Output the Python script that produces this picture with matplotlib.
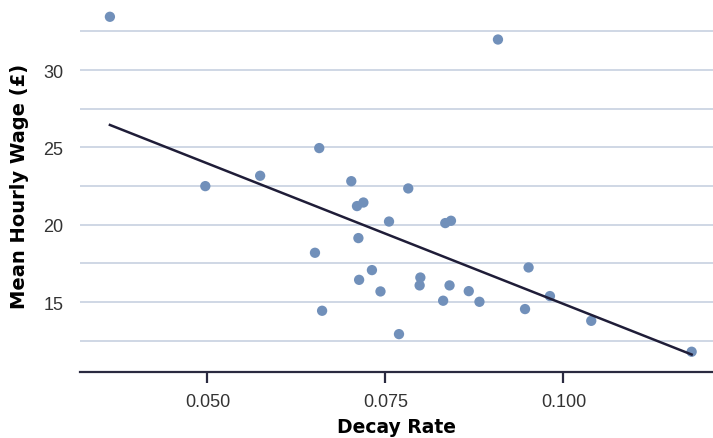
import numpy as np
import matplotlib
matplotlib.use("Agg")
import matplotlib.pyplot as plt
from matplotlib.ticker import MultipleLocator

decay_rate = [0.0363, 0.0908, 0.0497, 0.0574, 0.0657, 0.0702, 0.0782, 0.0710,
              0.0719, 0.0755, 0.0834, 0.0842, 0.0712, 0.0651, 0.0661, 0.0731,
              0.0713, 0.0743, 0.0769, 0.0799, 0.0798, 0.0831, 0.0840, 0.0867,
              0.0882, 0.0951, 0.0946, 0.0981, 0.1039, 0.1180]
mean_wage = [33.45, 31.98, 22.50, 23.17, 24.96, 22.82, 22.35, 21.21,
             21.44, 20.21, 20.11, 20.26, 19.14, 18.19, 14.44, 17.07,
             16.44, 15.69, 12.93, 16.59, 16.08, 15.09, 16.08, 15.71,
             15.02, 17.24, 14.55, 15.39, 13.79, 11.79]
x_ticks = [0.050, 0.075, 0.100]
y_ticks = [15, 20, 25, 30]

x = np.array(decay_rate)
y = np.array(mean_wage)
slope, intercept = np.polyfit(x, y, 1)
xs = np.array([x.min(), x.max()])

fig = plt.figure(figsize=(7.13, 4.39), dpi=100)
ax = fig.add_axes([80/713, (439-372.7)/439, 633/713, 372.7/439])

ax.set_xlim(0.0321, 0.121)
ax.set_ylim(10.5, 34.6)

ax.yaxis.set_major_locator(plt.FixedLocator(y_ticks))
ax.yaxis.set_minor_locator(MultipleLocator(2.5))
ax.grid(True, axis='y', which='both', color='#ccd4e3', linewidth=1.3, zorder=0)
ax.set_axisbelow(True)

ax.scatter(x, y, s=55, color='#7190ba', edgecolors='none', zorder=3)
ax.plot(xs, intercept + slope * xs, color='#1f1d38', linewidth=1.8, zorder=4)

ax.set_xticks(x_ticks)
ax.set_xticklabels([f"{v:.3f}" for v in x_ticks])
ax.set_yticks(y_ticks)
ax.set_yticklabels([str(v) for v in y_ticks])

for s in ['top', 'right', 'left']:
    ax.spines[s].set_visible(False)
ax.spines['bottom'].set_color('#2a2a40')
ax.spines['bottom'].set_linewidth(1.6)

ax.tick_params(axis='x', which='major', length=8, width=1.6, color='#2a2a40',
               labelsize=13, labelcolor='#333333', pad=7)
ax.tick_params(axis='y', which='both', length=0, labelsize=13,
               labelcolor='#333333', pad=12)
for lab in ax.get_xticklabels() + ax.get_yticklabels():
    lab.set_family(['Liberation Sans', 'DejaVu Sans'])

ax.set_xlabel('Decay Rate', fontsize=13.5, fontweight='bold',
              family=['DejaVu Sans'], labelpad=5.5)
ax.set_ylabel('Mean Hourly Wage (£)', fontsize=14, fontweight='bold',
              family=['DejaVu Sans'], labelpad=10)

fig.savefig('out.png', dpi=100)
